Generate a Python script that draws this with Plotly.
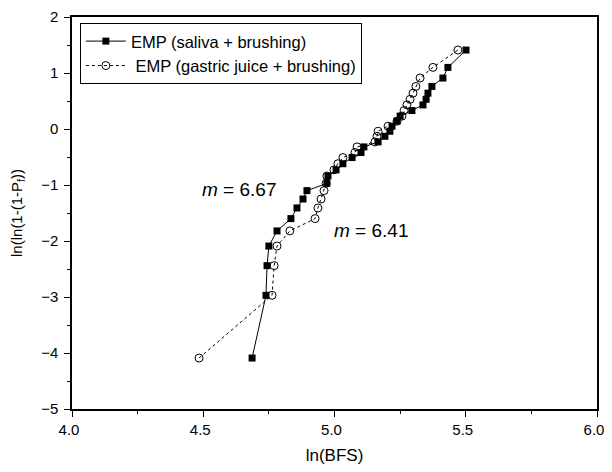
import plotly.graph_objects as go

# Weibull plot values
y_rank = [-4.09, -2.97, -2.44, -2.09, -1.82, -1.60, -1.41, -1.25, -1.10, -0.97,
          -0.84, -0.73, -0.62, -0.51, -0.42, -0.32, -0.23, -0.13, -0.04, 0.05,
          0.14, 0.23, 0.33, 0.43, 0.53, 0.64, 0.76, 0.91, 1.10, 1.41]

x_saliva = [4.686, 4.739, 4.743, 4.750, 4.781, 4.834, 4.857, 4.880, 4.895, 4.971,
            4.975, 5.006, 5.032, 5.067, 5.101, 5.112, 5.166, 5.192, 5.211, 5.219,
            5.238, 5.250, 5.295, 5.337, 5.349, 5.356, 5.371, 5.413, 5.432, 5.501]

x_gastric = [4.484, 4.762, 4.770, 4.781, 4.830, 4.926, 4.937, 4.949, 4.960, 4.968,
             4.971, 4.998, 5.013, 5.032, 5.078, 5.086, 5.154, 5.162, 5.166, 5.204,
             5.238, 5.257, 5.265, 5.276, 5.288, 5.299, 5.310, 5.326, 5.375, 5.470]

font_family = "Arial, Liberation Sans, sans-serif"

fig = go.Figure()

fig.add_trace(go.Scatter(
    x=x_saliva, y=y_rank,
    mode='lines+markers',
    name='EMP (saliva + brushing)',
    line=dict(color='black', width=1),
    marker=dict(symbol='square', size=7, color='black'),
))

fig.add_trace(go.Scatter(
    x=x_gastric, y=y_rank,
    mode='lines+markers',
    name=' EMP (gastric juice + brushing)',
    line=dict(color='black', width=1, dash='dot'),
    marker=dict(symbol='circle-open', size=8, color='black', line=dict(width=1)),
))

fig.add_annotation(x=4.635, y=-1.08, text='<i>m</i> = 6.67', showarrow=False,
                   font=dict(size=19, color='black', family=font_family))
fig.add_annotation(x=5.139, y=-1.82, text='<i>m</i> = 6.41', showarrow=False,
                   font=dict(size=19, color='black', family=font_family))

axis_common = dict(
    showgrid=False, zeroline=False, automargin=False,
    showline=True, linecolor='black', linewidth=1.5, mirror=True,
    ticks='outside', ticklen=6, tickwidth=1, tickcolor='black',
    tickfont=dict(size=15, color='black', family=font_family),
)

# page body adds an 8px offset, so the figure is kept smaller than the window
fig.update_layout(
    width=604, height=460,
    margin=dict(l=64, r=15, t=9, b=59),
    plot_bgcolor='white', paper_bgcolor='white',
    font=dict(family=font_family, color='black'),
    xaxis=dict(
        range=[4.0, 6.0], dtick=0.5, tickformat='.1f', ticklabelshift=-3,
        minor=dict(dtick=0.25, ticks='outside', ticklen=3, tickcolor='black'),
        title=dict(text='ln(BFS)', font=dict(size=17), standoff=12),
        **axis_common,
    ),
    yaxis=dict(
        range=[-5, 2], dtick=1, ticklabelstandoff=3,
        minor=dict(dtick=0.5, ticks='outside', ticklen=3, tickcolor='black'),
        title=dict(text='ln(ln(1-(1-P<sub>f</sub>))', font=dict(size=15), standoff=17),
        **axis_common,
    ),
    legend=dict(
        x=0.015, y=0.985, xanchor='left', yanchor='top',
        bgcolor='white', bordercolor='black', borderwidth=1,
        font=dict(size=16.5, color='black', family=font_family),
        tracegroupgap=0, itemwidth=40,
    ),
)

fig.write_html("out.html")
